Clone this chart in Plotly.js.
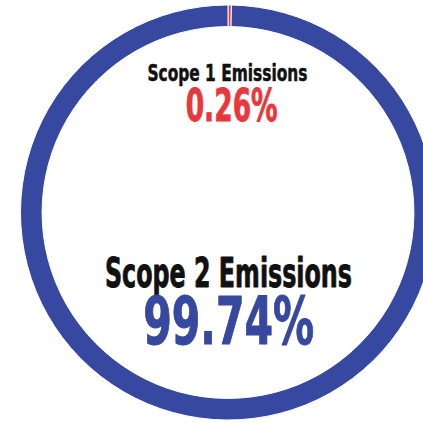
<!DOCTYPE html>
<html>
<head>
<meta charset="utf-8">
<script src="https://cdn.plot.ly/plotly-3.0.1.min.js"></script>
<style>
html,body{margin:0;padding:0;background:#fff;overflow:hidden;}
#wrap{width:423px;height:423px;overflow:hidden;position:relative;}
#chart{width:436px;height:423px;}
</style>
</head>
<body>
<div id="wrap"><div id="chart"></div></div>
<script>
const categories = ["Scope 1 Emissions", "Scope 2 Emissions"];
const shares = [0.26, 99.74];
const sliceColors = ["#e8383b", "#3748a0"];
const labelColors = ["#e8383b", "#3748a0"];

const total = shares.reduce((a, b) => a + b, 0);
const pct = shares.map(v => (v / total * 100).toFixed(2) + "%");

const W = 436, H = 423, mL = 20, mR = 0, mT = 5, mB = 3;
const pw = W - mL - mR, ph = H - mT - mB;
const px = x => (x - mL) / pw;
const py = y => 1 - (y - mT) / ph;

const FONT = "'DejaVu Sans Condensed', 'Liberation Sans Narrow', 'Arial Narrow', sans-serif";

const data = [{
  type: "pie",
  labels: categories,
  values: shares,
  hole: 0.896,
  marker: {colors: sliceColors, line: {color: "#ffffff", width: 1}},
  textinfo: "none",
  hoverinfo: "label+percent",
  sort: false,
  direction: "clockwise",
  rotation: 0,
  showlegend: false
}];

// style settings for labels: centre (px), font size, squeezed width, stroke
const labelStyle = [
  {x: 227, y: 73, size: 23, w: 160, sw: 0.5, color: "#111111"},
  {x: 231, y: 106, size: 44, w: 92, sw: 0.8, color: labelColors[0]},
  {x: 228, y: 273, size: 41, w: 247, sw: 0.9, color: "#111111"},
  {x: 228, y: 321, size: 66, w: 171, sw: 1.0, color: labelColors[1]}
];
const labelTexts = [categories[0], pct[0], categories[1], pct[1]];

const annotations = labelStyle.map((a, i) => ({
  text: labelTexts[i], x: px(a.x), y: py(a.y), xref: "paper", yref: "paper",
  xanchor: "center", yanchor: "middle", showarrow: false,
  font: {family: FONT, size: a.size, color: a.color, weight: 700}
}));

const layout = {
  width: W, height: H,
  margin: {l: mL, r: mR, t: mT, b: mB},
  paper_bgcolor: "#ffffff",
  plot_bgcolor: "#ffffff",
  showlegend: false,
  annotations: annotations
};

Plotly.newPlot("chart", data, layout, {displayModeBar: false, staticPlot: true}).then(gd => {
  const texts = gd.querySelectorAll(".annotation-text");
  texts.forEach((t, i) => {
    const s = labelStyle[i];
    if (s) {
      t.setAttribute("textLength", s.w);
      t.setAttribute("lengthAdjust", "spacingAndGlyphs");
      t.style.stroke = s.color;
      t.style.strokeWidth = s.sw + "px";
      t.style.strokeLinejoin = "round";
    }
  });
});
</script>
</body>
</html>
